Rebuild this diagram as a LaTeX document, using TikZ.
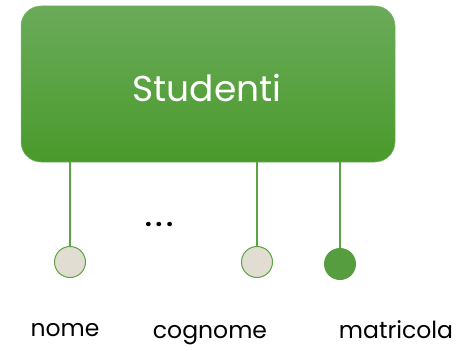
\documentclass[tikz,border=0pt]{standalone}
\usepackage{fontspec}
\setmainfont{Poppins}
\definecolor{gtop}{HTML}{6AAB5A}
\definecolor{gbot}{HTML}{4A9A2B}
\definecolor{gline}{HTML}{5AA542}
\definecolor{beige}{HTML}{E2DDD3}
\begin{document}
\begin{tikzpicture}[x=1pt,y=-1pt,
  entity/.style={rounded corners=20pt, top color=gtop, bottom color=gbot, draw=gline!80, line width=0.5pt},
  attr/.style={circle, draw=gline, line width=1pt, fill=beige, minimum size=31pt, inner sep=0pt},
  keyattr/.style={circle, fill=gline!95!black, minimum size=32pt, inner sep=0pt},
  conn/.style={draw=gline, line width=2pt},
  lbl/.style={font=\fontsize{23.5}{28}\selectfont, text=black}]
\useasboundingbox (0,0) rectangle (462,350);
\path[entity] (21,6) rectangle (395,162);
\node[text=white, font=\fontsize{36}{42}\selectfont] (st) at (207,88) {Studenti};
\coordinate (e) at (208,162);
\node[attr] (a1) at (70,262) {};
\node[attr] (a2) at (257,262) {};
\node[keyattr] (a3) at (340,264) {};
\draw[conn] (a1.north |- e) -- (a1.north);
\draw[conn] (a2.north |- e) -- (a2.north);
\draw[conn] (a3.north |- e) -- (a3.north);
\node[lbl, anchor=base, font=\fontsize{23.5}{28}\selectfont\bfseries] (dots) at (159,226) {.\hspace{4pt}.\hspace{4pt}.};
\node[lbl] (n1) at (65,330) {nome};
\node[lbl] (n2) at (210,335) {cognome};
\node[lbl] (n3) at (396,330) {matricola};
\end{tikzpicture}
\end{document}
